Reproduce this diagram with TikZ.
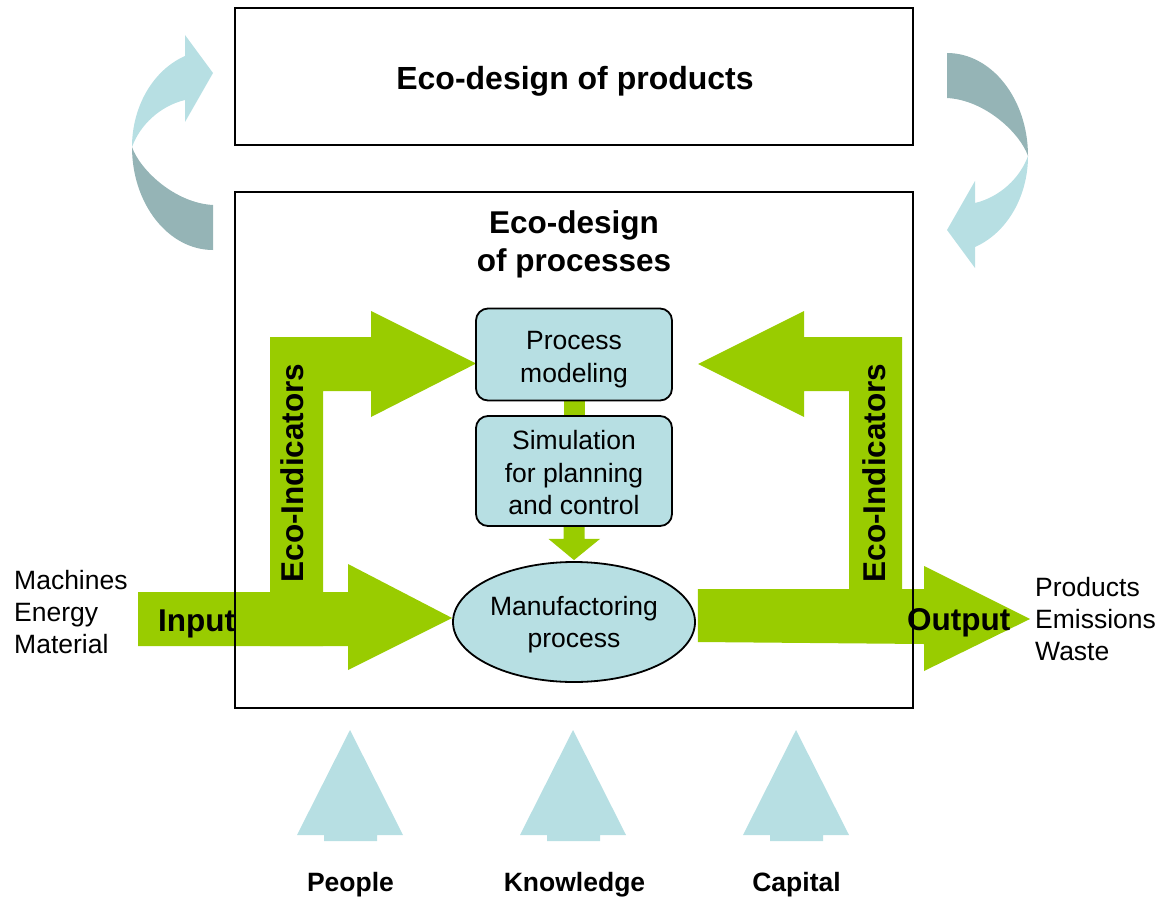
\documentclass[tikz,border=0pt]{standalone}
\usepackage{fontspec}
\setmainfont{Liberation Sans}
\usetikzlibrary{shapes.geometric,backgrounds,calc}
\definecolor{eco}{HTML}{99CC00}
\definecolor{lightb}{HTML}{B7DFE3}
\definecolor{darkb}{HTML}{95B4B6}
\newcommand{\ecocurve}{%
  \fill[darkb] (213,250) .. controls (168.3,250) and (132,203.9) .. (132,147)
     .. controls (140,170) and (175,203) .. (213,205) -- cycle;
  \fill[lightb] (132,147) .. controls (132,106.4) and (153.1,70.1) .. (185,56)
     -- (185,35) -- (213,73) -- (185,122) -- (185,100)
     .. controls (160,106) and (140,125) .. (132,147) -- cycle;
}
\begin{document}
\begin{tikzpicture}[x=1pt,y=-1pt,
  frame/.style={draw=black, line width=2pt, inner sep=0pt, minimum width=678pt},
  procbox/.style={draw=black, line width=1.8pt, fill=lightb, rounded corners=12pt,
     inner sep=0pt, minimum width=196pt},
  boxtext/.style={inner sep=0pt, align=center, font=\fontsize{26.5}{32.5}\selectfont},
  titletext/.style={font=\bfseries\fontsize{31.5}{38}\selectfont, inner sep=0pt, anchor=base},
  boldlabel/.style={font=\bfseries\fontsize{31.5}{38}\selectfont, inner sep=0pt},
  sidetext/.style={font=\fontsize{26.5}{32}\selectfont, anchor=base west, inner sep=0pt},
  bottomtext/.style={font=\bfseries\fontsize{26.5}{32}\selectfont, anchor=base, inner sep=0pt},
  greenshape/.style={fill=eco, draw=none},
  uparrow/.style={fill=lightb, draw=none}
]
\useasboundingbox (0,0) rectangle (1158,896);

% frames
\node (prodbox) [frame, minimum height=137pt] at (574,76.5) {};
\node (procframe) [frame, minimum height=516pt] at (574,450) {};
\node (prodtitle) [titletext, font=\bfseries\fontsize{32}{38}\selectfont] at (575,90) {Eco-design of products};
\node (proctitle1) [titletext] at (574,233) {Eco-design};
\node (proctitle2) [titletext] at (574,271) {of processes};

% inner boxes
\node (pm) [procbox, minimum height=92pt] at (574,354.5) {};
\node (sim) [procbox, minimum height=110pt] at (574,471) {};
\node (ell) [ellipse, draw=black, line width=1.8pt, fill=lightb, inner sep=0pt,
   minimum width=242pt, minimum height=120pt] at (574,622) {};
\node (pmtext) [boxtext] at ($(pm.center)+(0,5)$) {Process\\modeling};
\node (simtext) [boxtext] at ($(sim.center)+(0,2)$) {Simulation\\for planning\\and control};
\node (elltext) [boxtext, font=\fontsize{26.5}{32}\selectfont] at ($(ell.center)+(0,3)$) {Manufactoring\\process};

% labels
\node (inlabel) [boldlabel, anchor=base west] at (158,631) {Input};
\node (outlabel) [boldlabel, anchor=base west] at (907,630) {Output};
\node (ecoleft) [boldlabel, rotate=90] at (292,473) {Eco-Indicators};
\node (ecoright) [boldlabel, rotate=90] at (874,473) {Eco-Indicators};

\node (mach) [sidetext] at (14,589) {Machines};
\node (ener) [sidetext] at (14,621) {Energy};
\node (mate) [sidetext] at (14,653) {Material};
\node (prods) [sidetext] at (1035,596) {Products};
\node (emis) [sidetext] at (1035,628) {Emissions};
\node (waste) [sidetext] at (1035,660) {Waste};

\node (people) [bottomtext] at (350.5,891) {People};
\node (know) [bottomtext] at (574.5,891) {Knowledge};
\node (capital) [bottomtext] at (796.5,891) {Capital};

\begin{scope}[on background layer]
  % curved arrows
  \ecocurve
  \begin{scope}[shift={(1160,303)}, rotate=180]
    \ecocurve
  \end{scope}

  % input arrow
  \fill[greenshape] (138,592) -- (348,592) -- (348,564) -- ($(ell.west)+(0,-4)$)
     -- (348,670) -- (348,646) -- (138,646) -- cycle;
  % left bent arrow to process modeling
  \fill[greenshape] (270,646) -- (270,337) -- (371,337) -- (371,311)
     -- ($(pm.west)+(1,9)$) -- (371,417) -- (371,391) -- (323,391) -- (323,646) -- cycle;
  % output arrow
  \fill[greenshape] (ell.east) ++(2,-33) -- (924,589) -- (924,566) -- (1030,619)
     -- (924,671) -- (924,644) -- ($(ell.east)+(2,20)$) -- cycle;
  % right bent arrow (feedback)
  \fill[greenshape] (902,600) -- (902,337) -- (804,337) -- (804,311)
     -- (698,364) -- (804,417) -- (804,391) -- (849,391) -- (849,600) -- cycle;
  % connector process modeling -> simulation
  \fill[greenshape] ($(pm.south)+(-10.5,-2)$) rectangle ($(sim.north)+(10.5,2)$);
  % arrow simulation -> manufacturing
  \fill[greenshape] ($(sim.south)+(-10.5,-2)$) -- ++(0,14) -- ++(-15,0)
     -- ($(ell.north)+(0,-1)$) -- ($(sim.south)+(26,12)$) -- ++(-15.5,0)
     -- ($(sim.south)+(10.5,-2)$) -- cycle;

  % bottom up arrows
  \foreach \cx in {350,573,796} {
    \fill[uparrow] (\cx,730) -- (\cx+53,835) -- (\cx+27,835) -- (\cx+27,841)
       -- (\cx-26,841) -- (\cx-26,835) -- (\cx-53,835) -- cycle;
  }
\end{scope}
\end{tikzpicture}
\end{document}
